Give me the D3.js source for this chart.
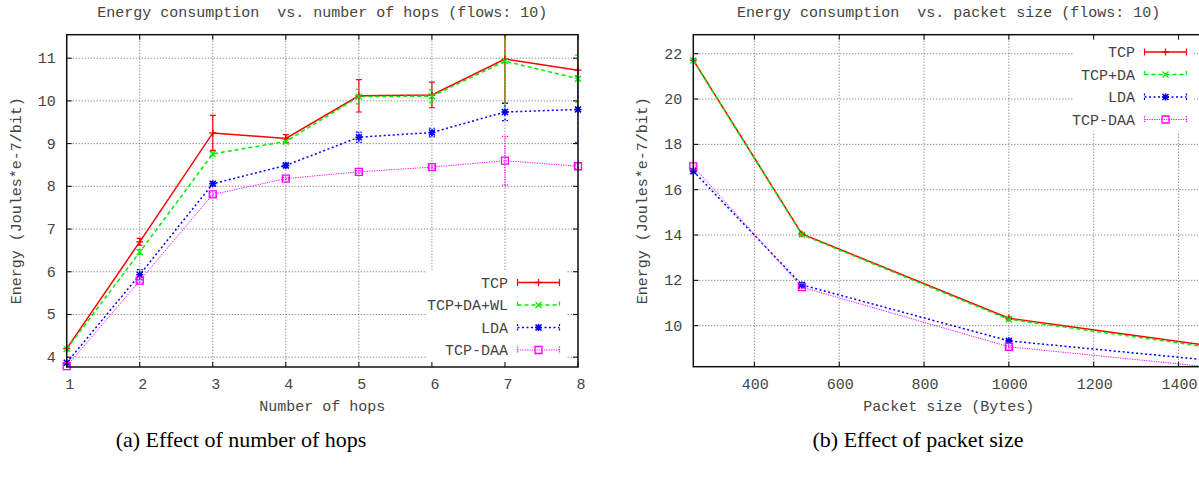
<!DOCTYPE html>
<html>
<head>
<meta charset="utf-8">
<script src="https://cdn.jsdelivr.net/npm/d3@7"></script>
<style>
  html, body { margin: 0; padding: 0; background: #fff; }
  svg text { font-family: "Liberation Mono", "DejaVu Sans Mono", monospace; }
</style>
</head>
<body>
<svg id="chart" width="1199" height="480"></svg>
<script>
// ---- data: (a) number of hops ----
var hops = [1, 2, 3, 4, 5, 6, 7, 8];
var hopsTCP     = [4.20, 6.70, 9.25, 9.12, 10.12, 10.14, 10.98, 10.72];
var hopsTCPErr  = [0.04, 0.08, 0.41, 0.09, 0.38, 0.30, 1.03, 0.87];
var hopsDAWL    = [4.19, 6.46, 8.76, 9.05, 10.10, 10.11, 10.93, 10.52];
var hopsDAWLErr = [0.04, 0.06, 0.05, 0.05, 0.17, 0.15, 1.18, 0.55];
var hopsLDA     = [3.87, 5.93, 8.06, 8.49, 9.15, 9.26, 9.74, 9.80];
var hopsLDAErr  = [0.04, 0.12, 0.05, 0.05, 0.12, 0.10, 0.20, 0.78];
var hopsDAA     = [3.79, 5.79, 7.81, 8.18, 8.34, 8.45, 8.60, 8.47];
var hopsDAAErr  = [0.03, 0.04, 0.04, 0.03, 0.03, 0.04, 0.57, 0.05];

// ---- data: (b) packet size ----
var sizes = [256, 512, 1000, 1460];
var sizeTCP     = [21.72, 14.05, 10.33, 9.15];
var sizeTCPErr  = [0.05, 0.05, 0.05, 0.05];
var sizeDA      = [21.70, 14.02, 10.28, 9.08];
var sizeDAErr   = [0.05, 0.05, 0.05, 0.05];
var sizeLDA     = [16.82, 11.80, 9.33, 8.50];
var sizeLDAErr  = [0.05, 0.05, 0.05, 0.05];
var sizeDAA     = [17.03, 11.70, 9.07, 8.20];
var sizeDAAErr  = [0.05, 0.05, 0.05, 0.05];

var hopsLabels = ["TCP", "TCP+DA+WL", "LDA", "TCP-DAA"];
var sizeLabels = ["TCP", "TCP+DA", "LDA", "TCP-DAA"];
var hopsYTicks = [4, 5, 6, 7, 8, 9, 10, 11];
var sizeYTicks = [10, 12, 14, 16, 18, 20, 22];
var sizeXTicks = [400, 600, 800, 1000, 1200, 1400];

// series styles
var styles = [
  {color: "#ff0000", width: 1.5, dash: null,      mark: "plus"},
  {color: "#00ee00", width: 1.5, dash: "4,3",     mark: "cross"},
  {color: "#0000ff", width: 1.5, dash: "2,2.5",   mark: "star"},
  {color: "#ff00ff", width: 1,   dash: "1.2,1.2", mark: "square"}
];

var svg = d3.select("#chart");
var textColor = "#444";

function drawMarker(g, type, x, y, color) {
  var s = 3.5;
  var p = d3.path();
  if (type === "plus" || type === "star") {
    p.moveTo(x - s, y); p.lineTo(x + s, y);
    p.moveTo(x, y - s); p.lineTo(x, y + s);
  }
  if (type === "cross" || type === "star") {
    var c = s * 0.85;
    p.moveTo(x - c, y - c); p.lineTo(x + c, y + c);
    p.moveTo(x - c, y + c); p.lineTo(x + c, y - c);
  }
  if (type === "square") {
    p.rect(x - s, y - s, 2 * s, 2 * s);
  }
  g.append("path").attr("d", p.toString())
    .attr("fill", "none").attr("stroke", color)
    .attr("stroke-width", type === "star" ? 1.6 : 1.3);
}

function panel(cfg) {
  var x = d3.scaleLinear().domain(cfg.xDomain).range([cfg.left, cfg.right]);
  var y = d3.scaleLinear().domain(cfg.yDomain).range([cfg.bottom, cfg.top]);
  var g = svg.append("g");
  var clipId = "clip" + cfg.id;
  svg.append("clipPath").attr("id", clipId).append("rect")
    .attr("x", cfg.left).attr("y", cfg.top)
    .attr("width", cfg.right - cfg.left).attr("height", cfg.bottom - cfg.top);

  // grid
  var grid = g.append("g").attr("stroke", "#666").attr("stroke-width", 1)
    .attr("stroke-dasharray", "1,2");
  cfg.xTicks.forEach(function (t) {
    grid.append("line").attr("x1", x(t)).attr("x2", x(t))
      .attr("y1", cfg.top).attr("y2", cfg.bottom);
  });
  cfg.yTicks.forEach(function (t) {
    grid.append("line").attr("x1", cfg.left).attr("x2", cfg.right)
      .attr("y1", y(t)).attr("y2", y(t));
  });

  // key background
  g.append("rect").attr("x", cfg.key.boxLeft).attr("y", cfg.key.boxTop)
    .attr("width", cfg.key.boxRight - cfg.key.boxLeft)
    .attr("height", cfg.key.boxBottom - cfg.key.boxTop).attr("fill", "#fff");

  // ticks (mirrored, inward)
  var tk = g.append("g").attr("stroke", "#000").attr("stroke-width", 1);
  cfg.xTicks.forEach(function (t) {
    tk.append("line").attr("x1", x(t)).attr("x2", x(t)).attr("y1", cfg.bottom).attr("y2", cfg.bottom - 5);
    tk.append("line").attr("x1", x(t)).attr("x2", x(t)).attr("y1", cfg.top).attr("y2", cfg.top + 5);
  });
  cfg.yTicks.forEach(function (t) {
    tk.append("line").attr("x1", cfg.left).attr("x2", cfg.left + 5).attr("y1", y(t)).attr("y2", y(t));
    tk.append("line").attr("x1", cfg.right).attr("x2", cfg.right - 5).attr("y1", y(t)).attr("y2", y(t));
  });

  // tick labels
  cfg.xTicks.forEach(function (t) {
    g.append("text").attr("x", x(t) + cfg.xLabelDx).attr("y", cfg.bottom + 22)
      .attr("text-anchor", "middle").attr("font-size", 15).attr("fill", textColor).text(t);
  });
  cfg.yTicks.forEach(function (t) {
    g.append("text").attr("x", cfg.left - 11).attr("y", y(t) + 5)
      .attr("text-anchor", "end").attr("font-size", 15).attr("fill", textColor).text(t);
  });

  // series
  var line = d3.line().x(function (d) { return x(d[0]); }).y(function (d) { return y(d[1]); });
  var clipped = g.append("g").attr("clip-path", "url(#" + clipId + ")");
  var marks = g.append("g");
  cfg.series.forEach(function (s, i) {
    var st = styles[i];
    var pts = cfg.xs.map(function (xv, j) { return [xv, s.values[j]]; });
    clipped.append("path").attr("d", line(pts)).attr("fill", "none")
      .attr("stroke", st.color).attr("stroke-width", st.width)
      .attr("stroke-dasharray", st.dash);
    pts.forEach(function (p, j) {
      var e = s.err[j], px = x(p[0]);
      var yl = y(p[1] - e), yh = y(p[1] + e);
      var ep = d3.path();
      ep.moveTo(px, yl); ep.lineTo(px, yh);
      ep.moveTo(px - 3, yl); ep.lineTo(px + 3, yl);
      ep.moveTo(px - 3, yh); ep.lineTo(px + 3, yh);
      clipped.append("path").attr("d", ep.toString()).attr("fill", "none")
        .attr("stroke", st.color).attr("stroke-width", 1.2)
        .attr("stroke-dasharray", st.dash);
      drawMarker(marks, st.mark, px, y(p[1]), st.color);
    });
  });

  // key entries
  cfg.labels.forEach(function (lab, i) {
    var st = styles[i];
    var ry = cfg.key.firstRow + i * 22.5;
    g.append("text").attr("x", cfg.key.textRight).attr("y", ry + 5)
      .attr("text-anchor", "end").attr("font-size", 15).attr("fill", textColor).text(lab);
    var x1 = cfg.key.textRight + 9.5, x2 = cfg.key.textRight + 51.5;
    g.append("line").attr("x1", x1).attr("x2", x2).attr("y1", ry).attr("y2", ry)
      .attr("stroke", st.color).attr("stroke-width", st.width).attr("stroke-dasharray", st.dash);
    var cp = d3.path();
    cp.moveTo(x1, ry - 3.5); cp.lineTo(x1, ry + 3.5);
    cp.moveTo(x2, ry - 3.5); cp.lineTo(x2, ry + 3.5);
    g.append("path").attr("d", cp.toString()).attr("stroke", st.color)
      .attr("stroke-width", 1.2).attr("stroke-dasharray", st.dash);
    drawMarker(g, st.mark, (x1 + x2) / 2, ry, st.color);
  });

  // border
  g.append("rect").attr("x", cfg.left).attr("y", cfg.top)
    .attr("width", cfg.right - cfg.left).attr("height", cfg.bottom - cfg.top)
    .attr("fill", "none").attr("stroke", "#111").attr("stroke-width", 1.5);

  // titles
  var cx = (cfg.left + cfg.right) / 2;
  g.append("text").attr("x", cx).attr("y", 17).attr("text-anchor", "middle")
    .attr("font-size", 15).attr("fill", textColor).attr("xml:space", "preserve").text(cfg.title);
  g.append("text").attr("x", cx).attr("y", 411).attr("text-anchor", "middle")
    .attr("font-size", 15).attr("fill", textColor).text(cfg.xTitle);
  var cy = (cfg.top + cfg.bottom) / 2;
  g.append("text").attr("transform", "translate(" + (cfg.yTitleX) + "," + cy + ") rotate(-90)")
    .attr("text-anchor", "middle").attr("font-size", 15).attr("fill", textColor).text(cfg.yTitle);
  g.append("text").attr("x", cfg.captionX).attr("y", 447).attr("text-anchor", "middle")
    .style("font-family", "'Liberation Serif', 'Times New Roman', serif")
    .attr("font-size", 22).attr("fill", "#000").text(cfg.caption);
}

panel({
  id: "a", left: 66.7, right: 578, top: 34.7, bottom: 367,
  xDomain: [1, 8], yDomain: [3.77, 11.55],
  xTicks: hops, yTicks: hopsYTicks, xs: hops, xLabelDx: 3,
  series: [
    {values: hopsTCP, err: hopsTCPErr},
    {values: hopsDAWL, err: hopsDAWLErr},
    {values: hopsLDA, err: hopsLDAErr},
    {values: hopsDAA, err: hopsDAAErr}
  ],
  labels: hopsLabels,
  key: {textRight: 508, firstRow: 282.5, boxLeft: 427, boxRight: 567, boxTop: 271, boxBottom: 366},
  title: "Energy consumption  vs. number of hops (flows: 10)",
  xTitle: "Number of hops", yTitle: "Energy (Joules*e-7/bit)", yTitleX: 21,
  caption: "(a) Effect of number of hops", captionX: 241
});

panel({
  id: "b", left: 693.3, right: 1204, top: 34.7, bottom: 366.7,
  xDomain: [256, 1460], yDomain: [8.19, 22.84],
  xTicks: sizeXTicks, yTicks: sizeYTicks, xs: sizes, xLabelDx: 1,
  series: [
    {values: sizeTCP, err: sizeTCPErr},
    {values: sizeDA, err: sizeDAErr},
    {values: sizeLDA, err: sizeLDAErr},
    {values: sizeDAA, err: sizeDAAErr}
  ],
  labels: sizeLabels,
  key: {textRight: 1135, firstRow: 52, boxLeft: 1073, boxRight: 1194, boxTop: 36, boxBottom: 131.5},
  title: "Energy consumption  vs. packet size (flows: 10)",
  xTitle: "Packet size (Bytes)", yTitle: "Energy (Joules*e-7/bit)", yTitleX: 647,
  caption: "(b) Effect of packet size", captionX: 918
});
</script>
</body>
</html>
